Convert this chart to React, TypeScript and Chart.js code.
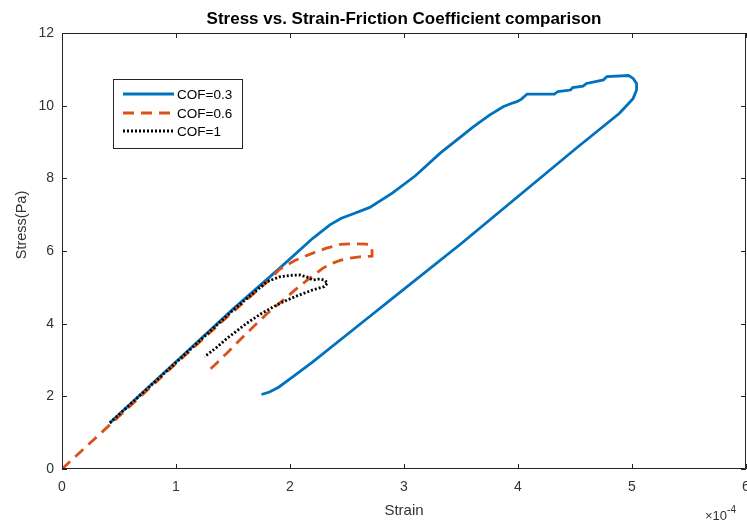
import React, { useEffect, useRef } from "react";
import { Chart, registerables } from "chart.js";

Chart.register(...registerables);

const chartTitle = "Stress vs. Strain-Friction Coefficient comparison";
const xAxisLabel = "Strain";
const yAxisLabel = "Stress(Pa)";
const xExponentBase = "×10";
const xExponent = "-4";
const seriesLabels = ["COF=0.3", "COF=0.6", "COF=1"];

// strain values in units of 1e-4
const cof03Strain = [
  0.42, 1.0, 1.5, 1.9, 2.2, 2.35, 2.45, 2.55, 2.7, 2.9, 3.1, 3.32, 3.5, 3.61, 3.75, 3.87, 3.94, 3.99,
  4.03, 4.08, 4.32, 4.35, 4.46, 4.48, 4.57, 4.6, 4.69, 4.75, 4.78, 4.97, 5.01, 5.04, 5.04, 5.01,
  4.97, 4.89, 4.5, 4.0, 3.5, 3.0, 2.6, 2.2, 2.0, 1.9, 1.82, 1.75,
];
const cof03Stress = [
  1.27, 2.95, 4.4, 5.5, 6.35, 6.72, 6.9, 7.02, 7.2, 7.6, 8.07, 8.7, 9.15, 9.42, 9.74, 9.97, 10.06,
  10.11, 10.18, 10.32, 10.32, 10.39, 10.43, 10.5, 10.54, 10.61, 10.67, 10.71, 10.8, 10.83, 10.75,
  10.61, 10.43, 10.2, 10.06, 9.79, 8.8, 7.5, 6.2, 4.95, 3.95, 2.95, 2.48, 2.25, 2.12, 2.05,
];

const cof06Strain = [
  0, 0.5, 1.0, 1.5, 1.8, 1.91, 2.05, 2.2, 2.32, 2.44, 2.55, 2.67, 2.71, 2.72, 2.72, 2.68, 2.61,
  2.52, 2.44, 2.36, 2.29, 2.18, 2.06, 1.93, 1.8, 1.68, 1.56, 1.45, 1.34, 1.3,
];
const cof06Stress = [
  0, 1.45, 2.9, 4.33, 5.15, 5.5, 5.75, 5.94, 6.08, 6.18, 6.2, 6.19, 6.15, 6.0, 5.86, 5.85, 5.84,
  5.8, 5.74, 5.65, 5.53, 5.27, 4.97, 4.62, 4.28, 3.92, 3.55, 3.2, 2.86, 2.75,
];

const cof1Strain = [
  0.42, 1.0, 1.5, 1.8, 1.91, 2.0, 2.09, 2.15, 2.2, 2.26, 2.3, 2.33, 2.3, 2.2, 2.05, 1.91, 1.75,
  1.62, 1.45, 1.35, 1.25,
];
const cof1Stress = [
  1.27, 2.93, 4.37, 5.16, 5.29, 5.33, 5.34, 5.28, 5.2, 5.23, 5.2, 5.12, 5.02, 4.93, 4.75, 4.56, 4.28,
  4.01, 3.6, 3.33, 3.09,
];

const xTicks = [0, 1, 2, 3, 4, 5, 6];
const yTicks = [0, 2, 4, 6, 8, 10, 12];

const FONT = "'Liberation Sans', Arial, Helvetica, sans-serif";
const AXIS_COLOR = "#262626";
const TEXT_COLOR = "#333333";

const colors = ["#0072BD", "#D95319", "#000000"];
const dashes: number[][] = [[], [11, 7], [2, 2]];

function toPoints(xs: number[], ys: number[]) {
  return xs.map((x, i) => ({ x, y: ys[i] }));
}

const decorPlugin = {
  id: "decor",
  afterDraw(chart: any) {
    const { ctx, chartArea, scales } = chart;
    const { left, right, top, bottom } = chartArea;
    ctx.save();
    // axes box
    ctx.strokeStyle = AXIS_COLOR;
    ctx.lineWidth = 1;
    ctx.setLineDash([]);
    ctx.beginPath();
    ctx.moveTo(left + 0.5, top + 0.5);
    ctx.lineTo(right - 0.5, top + 0.5);
    ctx.lineTo(right - 0.5, bottom - 0.5);
    ctx.lineTo(left + 0.5, bottom - 0.5);
    ctx.closePath();
    ctx.stroke();
    // inward ticks
    const tl = 5;
    ctx.beginPath();
    xTicks.forEach((v) => {
      const px = Math.round(scales.x.getPixelForValue(v)) + 0.5;
      ctx.moveTo(px, bottom);
      ctx.lineTo(px, bottom - tl);
      ctx.moveTo(px, top);
      ctx.lineTo(px, top + tl);
    });
    yTicks.forEach((v) => {
      const py = Math.round(scales.y.getPixelForValue(v)) + 0.5;
      ctx.moveTo(left, py);
      ctx.lineTo(left + tl, py);
      ctx.moveTo(right, py);
      ctx.lineTo(right - tl, py);
    });
    ctx.stroke();

    // title
    ctx.fillStyle = "#000000";
    ctx.font = `bold 17px ${FONT}`;
    ctx.textAlign = "center";
    ctx.textBaseline = "alphabetic";
    ctx.fillText(chartTitle, (left + right) / 2, 24);

    // y axis title
    ctx.save();
    ctx.translate(22, 225);
    ctx.rotate(-Math.PI / 2);
    ctx.fillStyle = TEXT_COLOR;
    ctx.font = `14.5px ${FONT}`;
    ctx.textAlign = "center";
    ctx.textBaseline = "middle";
    ctx.fillText(yAxisLabel, 0, 0);
    ctx.restore();

    // exponent
    ctx.fillStyle = TEXT_COLOR;
    ctx.textAlign = "left";
    ctx.textBaseline = "alphabetic";
    ctx.font = `13px ${FONT}`;
    ctx.fillText(xExponentBase, 705, 520);
    const w = ctx.measureText(xExponentBase).width;
    ctx.font = `10px ${FONT}`;
    ctx.fillText(xExponent, 705 + w, 513);

    // legend
    const lx = 113, ly = 79, lw = 129, lh = 69;
    ctx.fillStyle = "#ffffff";
    ctx.fillRect(lx, ly, lw, lh);
    ctx.strokeStyle = AXIS_COLOR;
    ctx.lineWidth = 1;
    ctx.strokeRect(lx + 0.5, ly + 0.5, lw, lh);
    const rows = [94, 113, 131];
    chart.data.datasets.forEach((ds: any, i: number) => {
      const y = rows[i];
      ctx.strokeStyle = ds.borderColor;
      ctx.lineWidth = ds.borderWidth;
      ctx.setLineDash(ds.borderDash || []);
      ctx.beginPath();
      ctx.moveTo(123, y);
      ctx.lineTo(174, y);
      ctx.stroke();
      ctx.setLineDash([]);
      ctx.fillStyle = "#000000";
      ctx.font = `13.5px ${FONT}`;
      ctx.textAlign = "left";
      ctx.textBaseline = "middle";
      ctx.fillText(ds.label, 177, y + 1);
    });
    ctx.restore();
  },
};

export default function App() {
  const canvasRef = useRef<HTMLCanvasElement | null>(null);

  useEffect(() => {
    if (!canvasRef.current) return;
    const series = [
      toPoints(cof03Strain, cof03Stress),
      toPoints(cof06Strain, cof06Stress),
      toPoints(cof1Strain, cof1Stress),
    ];
    const chart = new Chart(canvasRef.current, {
      type: "scatter",
      data: {
        datasets: series.map((pts, i) => ({
          label: seriesLabels[i],
          data: pts,
          showLine: true,
          borderColor: colors[i],
          backgroundColor: colors[i],
          borderWidth: 2.8,
          borderDash: dashes[i],
          pointRadius: 0,
          tension: 0,
          order: 3 - i,
        })),
      },
      options: {
        animation: false,
        responsive: false,
        maintainAspectRatio: false,
        layout: { padding: { top: 33, right: 1, left: 0, bottom: 0 } },
        plugins: {
          legend: { display: false },
          tooltip: { enabled: false },
          title: { display: false },
        },
        scales: {
          x: {
            type: "linear",
            min: 0,
            max: 6,
            grid: { display: false, drawTicks: false },
            border: { display: false },
            ticks: {
              stepSize: 1,
              padding: 10,
              color: TEXT_COLOR,
              font: { family: FONT, size: 14 },
              maxRotation: 0,
            },
            title: {
              display: true,
              text: xAxisLabel,
              color: TEXT_COLOR,
              font: { family: FONT, size: 15 },
              padding: { top: 0, bottom: 3 },
            },
            afterFit(scale: any) {
              scale.height = 54;
              scale.paddingLeft = 0;
              scale.paddingRight = 0;
            },
          },
          y: {
            type: "linear",
            min: 0,
            max: 12,
            grid: { display: false, drawTicks: false },
            border: { display: false },
            ticks: {
              stepSize: 2,
              padding: 8,
              color: TEXT_COLOR,
              font: { family: FONT, size: 14 },
            },
            title: { display: false },
            afterFit(scale: any) {
              scale.width = 62;
              scale.paddingTop = 0;
              scale.paddingBottom = 0;
            },
          },
        },
      },
      plugins: [decorPlugin],
    } as any);
    return () => chart.destroy();
  }, []);

  return (
    <div style={{ position: "absolute", left: 0, top: 0, width: 747, height: 523, background: "#fff" }}>
      <canvas ref={canvasRef} width={747} height={523} style={{ display: "block" }} />
    </div>
  );
}
